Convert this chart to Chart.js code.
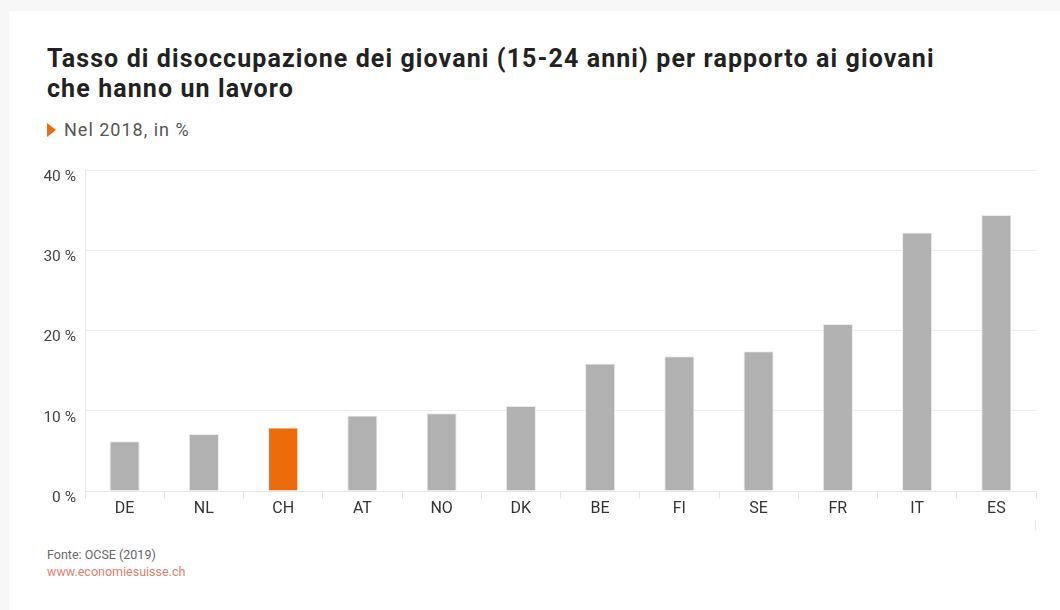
<!DOCTYPE html>
<html>
<head>
<meta charset="utf-8">
<script src="https://cdn.jsdelivr.net/npm/chart.js@4.4.0/dist/chart.umd.min.js"></script>
<style>
  html, body { margin: 0; padding: 0; background: #f7f7f7; width: 1060px; height: 610px; overflow: hidden; }
  #card { position: absolute; left: 9px; top: 11px; width: 1051px; height: 599px; background: #fff; }
  .t { position: absolute; font-family: Roboto, "Open Sans", sans-serif; white-space: nowrap; }
  #title { left: 47px; top: 44px; font-size: 25px; font-weight: bold; color: #222; line-height: 30px; letter-spacing: 1.1px; }
  #sub { left: 64px; top: 119px; font-size: 18px; color: #555; line-height: 22px; letter-spacing: 1px; }
  #tri { position: absolute; left: 47px; top: 123px; width: 0; height: 0; border-top: 7px solid transparent; border-bottom: 7px solid transparent; border-left: 9px solid #ec6c0c; }
  #src { left: 47px; top: 547px; font-size: 12.5px; color: #666; line-height: 16px; }
  #url { left: 47px; top: 564px; font-size: 12.5px; color: #e0806a; line-height: 16px; }
  #mark { position: absolute; left: 1035px; top: 520px; width: 1px; height: 10px; background: #e6e6e6; }
  #wrap { position: absolute; left: 0; top: 150px; width: 1060px; height: 380px; }
</style>
</head>
<body>
<div id="card"></div>
<div class="t" id="title">Tasso di disoccupazione dei giovani (15-24 anni) per rapporto ai giovani<br>che hanno un lavoro</div>
<div id="tri"></div>
<div class="t" id="sub">Nel 2018, in %</div>
<div id="wrap"><canvas id="c" width="1060" height="380"></canvas></div>
<div id="mark"></div>
<div class="t" id="src">Fonte: OCSE (2019)</div>
<div class="t" id="url">www.economiesuisse.ch</div>
<script>
const categories = ["DE", "NL", "CH", "AT", "NO", "DK", "BE", "FI", "SE", "FR", "IT", "ES"];
const values = [6.2, 7.1, 7.9, 9.4, 9.7, 10.6, 15.9, 16.8, 17.4, 20.8, 32.2, 34.4];
const highlight = "CH";
const yTicks = [0, 10, 20, 30, 40];

const colors = categories.map(c => c === highlight ? "#ec6c0c" : "#b1b1b1");

new Chart(document.getElementById("c"), {
  type: "bar",
  data: {
    labels: categories,
    datasets: [{
      data: values,
      backgroundColor: colors,
      borderColor: "#ececec",
      borderWidth: 1,
      barPercentage: 0.38,
      categoryPercentage: 1
    }]
  },
  options: {
    responsive: false,
    animation: false,
    layout: { padding: { top: 20, right: 24, bottom: 0, left: 0 } },
    plugins: { legend: { display: false }, tooltip: { enabled: false } },
    scales: {
      x: {
        afterFit: s => { s.height = 39; },
        grid: { offset: true, drawOnChartArea: false, drawTicks: true, tickLength: 8, color: "#e6e6e6" },
        border: { color: "#e6e6e6" },
        ticks: { color: "#333", font: { family: "Roboto", size: 16 }, padding: 0 }
      },
      y: {
        min: 0, max: 40,
        afterFit: s => { s.width = 85; },
        afterBuildTicks: s => { s.ticks = yTicks.map(v => ({ value: v })); },
        grid: { color: "#ececec", drawTicks: false },
        border: { color: "#e6e6e6" },
        ticks: { color: "#444", font: { family: "Roboto", size: 15.5 }, padding: 9, labelOffset: 7, callback: v => v + " %" }
      }
    }
  }
});
</script>
</body>
</html>
